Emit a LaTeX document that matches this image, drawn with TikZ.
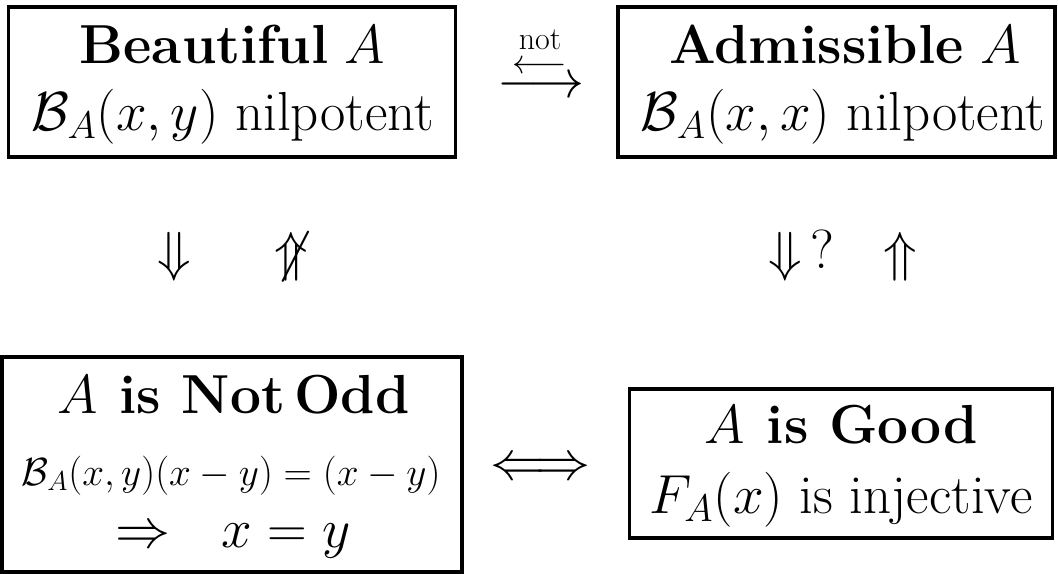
\RequirePackage{fix-cm}
\documentclass[tikz,border=0pt]{standalone}
\usepackage{amsmath,amssymb}
\begin{document}
\tikzset{
  frame/.style={draw, line width=1.6pt, inner sep=0pt},
  big/.style={font=\fontsize{27.5}{33}\selectfont, inner sep=0pt, anchor=base},
  mid/.style={font=\fontsize{19.6}{23}\selectfont, inner sep=0pt, anchor=base},
  small/.style={font=\fontsize{16}{19}\selectfont, inner sep=0pt, anchor=base},
  sym/.style={font=\fontsize{27.5}{33}\selectfont, inner sep=0pt, anchor=base},
  arrowsmall/.style={font=\fontsize{17}{20}\selectfont, inner sep=0pt, anchor=base},
  arrowmid/.style={font=\fontsize{27}{32}\selectfont, inner sep=0pt, anchor=base},
}
\begin{tikzpicture}[x=0.5pt,y=-0.5pt]
\useasboundingbox (0,0) rectangle (1058,573);
% boxes
\node[frame, minimum width=223.5pt, minimum height=75pt] (b1) at (232,82) {};
\node[frame, minimum width=218.5pt, minimum height=75pt] (b2) at (836.5,82) {};
\node[frame, minimum width=230pt, minimum height=107.5pt] (b3) at (232,464.5) {};
\node[frame, minimum width=211.5pt, minimum height=74.5pt] (b4) at (841,463.5) {};
% box 1
\node[big] (t1a) at (232.5,63) {\textbf{Beautiful} $A$};
\node[big] (t1b) at (232.5,130) {$\mathcal{B}_A(x,y)$ nilpotent};
% box 2
\node[big] (t2a) at (845,63) {\textbf{Admissible} $A$};
\node[big] (t2b) at (843,130) {$\mathcal{B}_A(x,x)$ nilpotent};
% box 3
\node[big] (t3a) at (233.5,413) {$A$\hspace{0.4em}\textbf{is Not\,Odd}};
\node[mid] (t3b) at (231,485) {$\mathcal{B}_A(x,y)(x-y)=(x-y)$};
\node[big] (t3c) at (233,547) {${\Rightarrow}\hspace{0.92em}x=y$};
% box 4
\node[big] (t4a) at (841,443) {$A$\hspace{0.4em}\textbf{is Good}};
\node[big] (t4b) at (841,513) {$F_A(x)$ is injective};
% top arrows
\node[small] (nt) at (540,49.5) {not};
\node[arrowsmall] (la) at (540,73.5) {$\longleftarrow$};
\node[arrowmid] (ra) at (541,97.5) {$\longrightarrow$};
% vertical arrows
\node[sym] (d1) at (174,270.5) {$\Downarrow$};
\node[sym] (u1) at (291,270.5) {$\not\Uparrow$};
\node[sym] (d2) at (785,270.5) {$\Downarrow$};
\node[big] (q) at (822,268) {?};
\node[sym] (u2) at (900,270.5) {$\Uparrow$};
% bottom equivalence
\node[sym] (eq) at (540.5,479.5) {$\Longleftrightarrow$};
\end{tikzpicture}
\end{document}
